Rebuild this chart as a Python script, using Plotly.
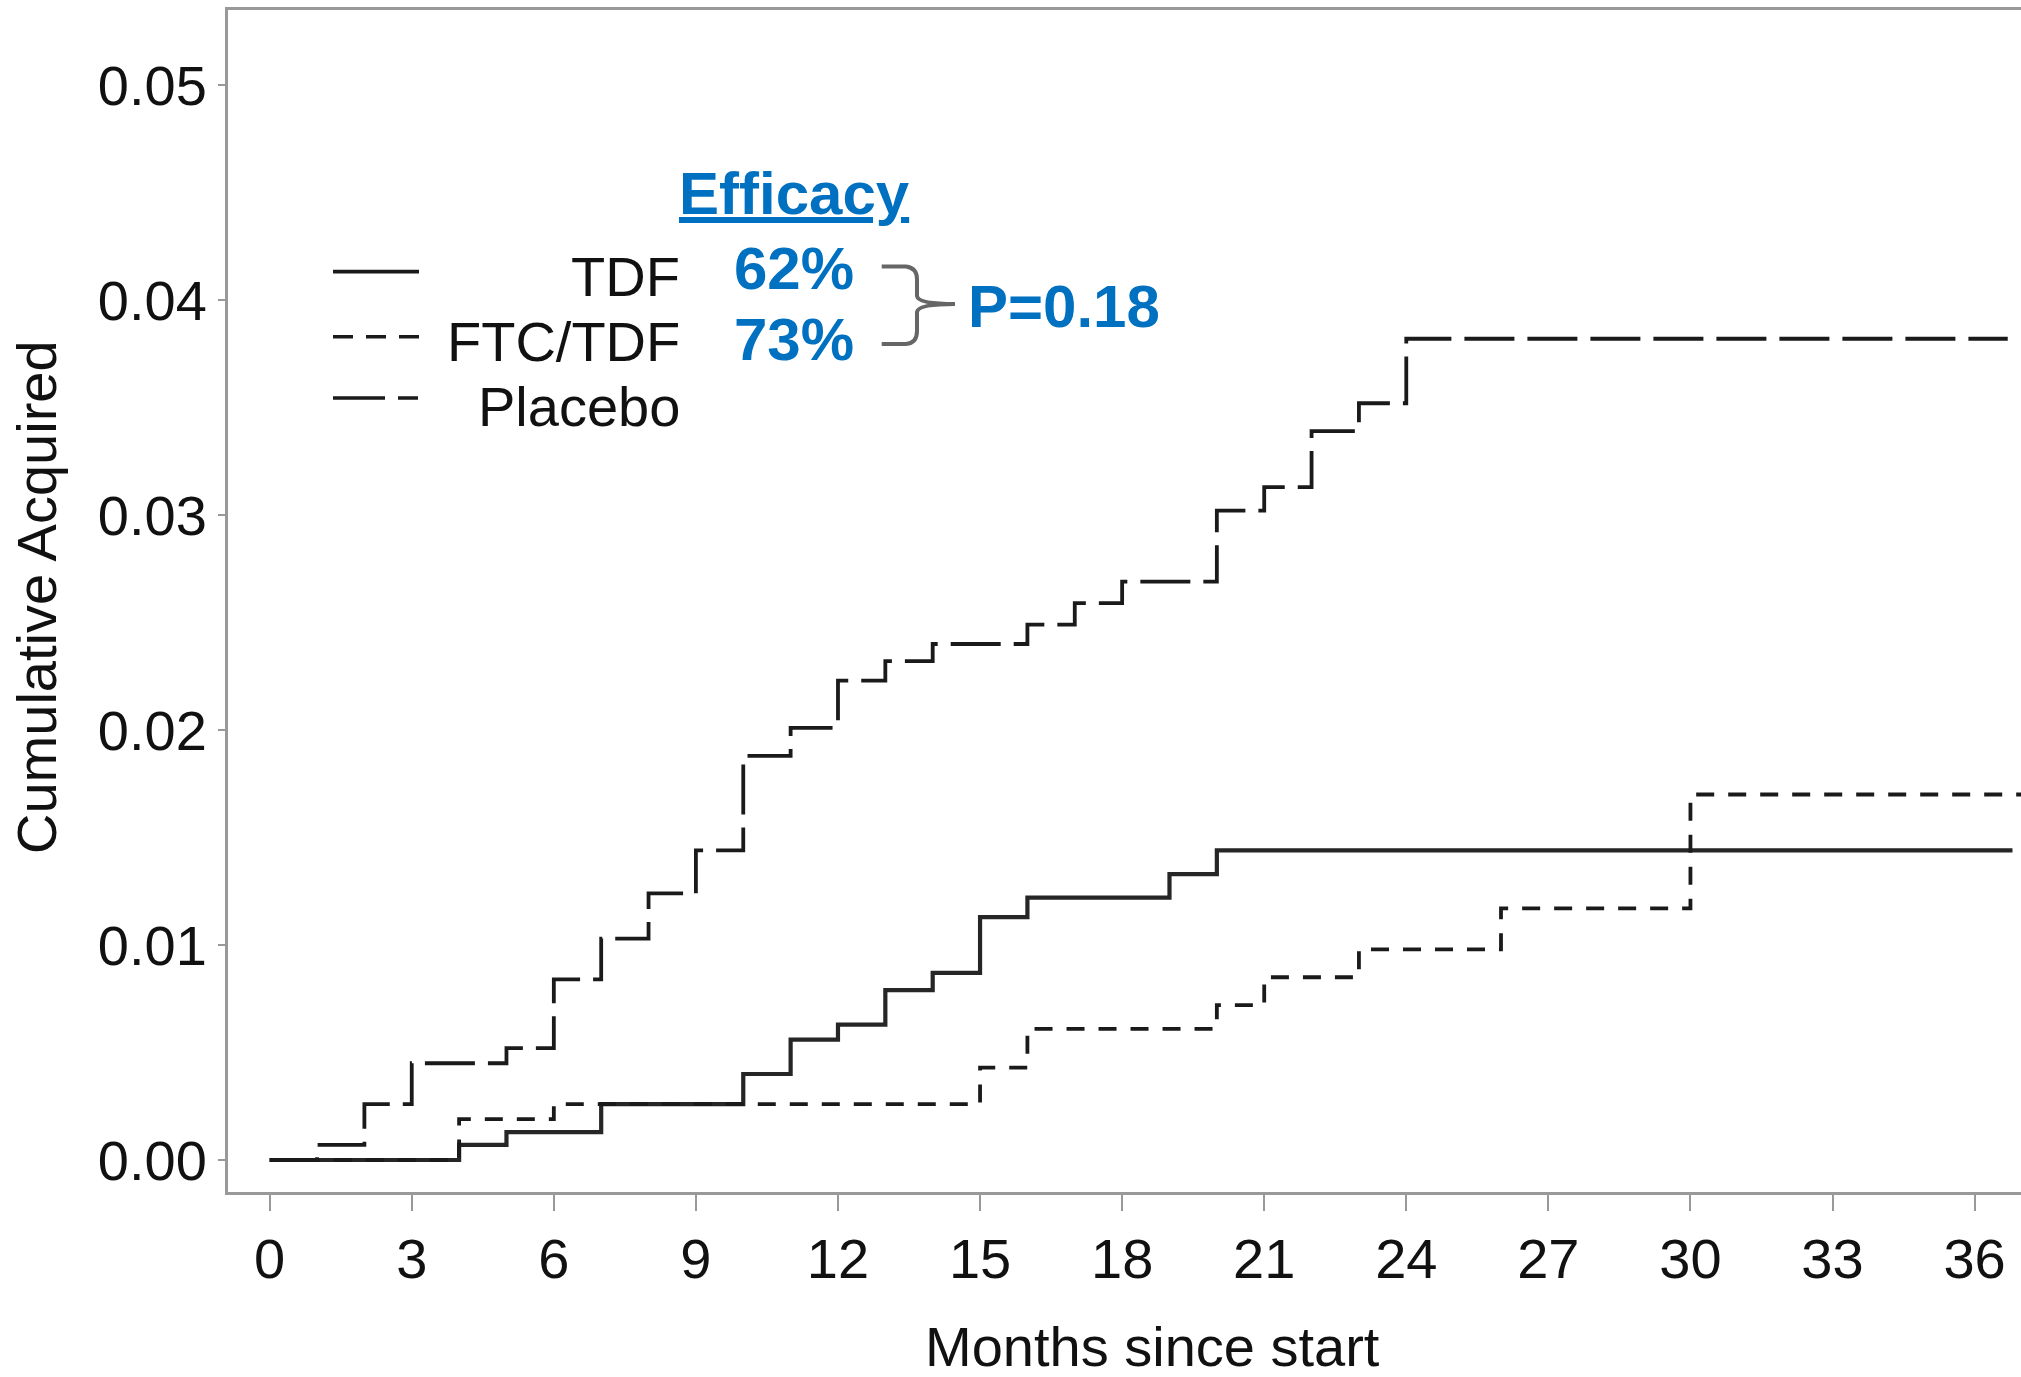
import plotly.graph_objects as go

# ---------------- data ----------------
tdf_months = [0, 4, 5, 7, 10, 11, 12, 13, 14, 15, 16, 19, 20, 36.8]
tdf_values = [0.0, 0.0007, 0.0013, 0.0026, 0.0040, 0.0056, 0.0063, 0.0079,
              0.0087, 0.0113, 0.0122, 0.0133, 0.0144, 0.0144]

ftc_months = [0, 4, 6, 15, 16, 20, 21, 23, 26, 30, 37.0]
ftc_values = [0.0, 0.0019, 0.0026, 0.0043, 0.0061, 0.0072, 0.0085, 0.0098,
              0.0117, 0.0170, 0.0170]

placebo_months = [0, 1, 2, 3, 5, 6, 7, 8, 9, 10, 11, 12, 13, 14, 16, 17, 18,
                  20, 21, 22, 23, 24, 36.7]
placebo_values = [0.0, 0.0007, 0.0026, 0.0045, 0.0052, 0.0084, 0.0103, 0.0124,
                  0.0144, 0.0188, 0.0201, 0.0223, 0.0232, 0.0240, 0.0249,
                  0.0259, 0.0269, 0.0302, 0.0313, 0.0339, 0.0352, 0.0382,
                  0.0382]

series_names = ["TDF", "FTC/TDF", "Placebo"]
efficacy_labels = ["62%", "73%"]
p_value_label = "P=0.18"

x_tickvals = list(range(0, 37, 3))
y_tickvals = [0.0, 0.01, 0.02, 0.03, 0.04, 0.05]

# ---------------- layout geometry ----------------
W, H = 2021, 1377
L, R, T, B = 228, 2021, 10, 1192
FONT = "Liberation Sans, Arial, sans-serif"
BLUE = "#0070C0"
INK = "#1a1a1a"
AXIS = "#999999"


def px(x):
    return (x - L) / (R - L)


def py(y):
    return (B - y) / (B - T)


fig = go.Figure()
fig.add_trace(go.Scatter(x=tdf_months, y=tdf_values, mode="lines",
                         line=dict(shape="hv", color="#262626", width=4.2),
                         name=series_names[0], showlegend=False))
fig.add_trace(go.Scatter(x=ftc_months, y=ftc_values, mode="lines",
                         line=dict(shape="hv", color=INK, width=3.8,
                                   dash="18px,14px"),
                         name=series_names[1], showlegend=False))
fig.add_trace(go.Scatter(x=placebo_months, y=placebo_values, mode="lines",
                         line=dict(shape="hv", color=INK, width=3.8,
                                   dash="50px,13px"),
                         name=series_names[2], showlegend=False))

fig.update_xaxes(range=[-0.88, 36.98], tickvals=x_tickvals,
                 ticks="outside", ticklen=16, tickwidth=2, tickcolor=AXIS,
                 showline=True, linecolor=AXIS, linewidth=3, mirror=True,
                 showgrid=False, zeroline=False,
                 tickfont=dict(family=FONT, size=56, color="#111111"))
fig.update_yaxes(range=[-0.001488, 0.05349], tickvals=y_tickvals,
                 tickformat=".2f",
                 ticks="outside", ticklen=7, tickwidth=2, tickcolor=AXIS,
                 showline=True, linecolor=AXIS, linewidth=3,
                 showgrid=False, zeroline=False,
                 tickfont=dict(family=FONT, size=56, color="#111111"))

annotations = []
# axis titles
annotations.append(dict(text="Cumulative Acquired", textangle=-90,
                        x=px(36), y=py(597), xref="paper", yref="paper",
                        xanchor="center", yanchor="middle", showarrow=False,
                        font=dict(family=FONT, size=56, color="#111111")))
annotations.append(dict(text="Months since start",
                        x=px(1152.5), y=py(1346), xref="paper", yref="paper",
                        xanchor="center", yanchor="middle", showarrow=False,
                        borderpad=0,
                        font=dict(family=FONT, size=56, color="#111111")))
# efficacy block
annotations.append(dict(text="<b><u>Efficacy</u></b>",
                        x=px(794.5), y=py(193.5), xref="paper", yref="paper",
                        xanchor="center", yanchor="middle", showarrow=False,
                        font=dict(family=FONT, size=60, color=BLUE)))
for lab, yc in zip(efficacy_labels, [268, 340]):
    annotations.append(dict(text="<b>%s</b>" % lab,
                            x=px(794.3), y=py(yc), xref="paper", yref="paper",
                            xanchor="center", yanchor="middle", showarrow=False,
                            font=dict(family=FONT, size=60, color=BLUE)))
annotations.append(dict(text="<b>%s</b>" % p_value_label,
                        x=px(966), y=py(306.5), xref="paper", yref="paper",
                        xanchor="left", yanchor="middle", showarrow=False,
                        font=dict(family=FONT, size=60, color=BLUE)))
# manual legend text
for name, yc in zip(series_names, [276.7, 341, 406]):
    annotations.append(dict(text=name, x=px(682), y=py(yc),
                            xref="paper", yref="paper",
                            xanchor="right", yanchor="middle", showarrow=False,
                            font=dict(family=FONT, size=56, color="#111111")))

shapes = []
legend_styles = [("solid", 3.8), ("20px,13px", 3.6), ("52px,13px,20px,13px", 3.6)]
for (dash, w), yc in zip(legend_styles, [271.7, 336.7, 398]):
    shapes.append(dict(type="line", xref="paper", yref="paper",
                       x0=px(333), x1=px(419), y0=py(yc), y1=py(yc),
                       line=dict(color=INK, width=w, dash=dash)))

# curly brace
pts = {
    "a": (881.7, 266.5), "b": (906, 266.5), "c": (917, 268), "d": (917, 279),
    "e": (917, 296), "f": (918, 304), "g": (955, 304),
    "h": (918, 304), "i": (917, 312), "j": (917, 331), "k": (917, 343),
    "l": (906, 344), "m": (881.7, 344),
}


def P(k):
    x, y = pts[k]
    return "%.5f %.5f" % (px(x), py(y))


brace = ("M %s L %s Q %s %s L %s Q %s %s Q %s %s L %s Q %s %s L %s"
         % (P("a"), P("b"), P("c"), P("d"), P("e"), P("f"), P("g"),
            P("h"), P("i"), P("j"), P("k"), P("l"), P("m")))
shapes.append(dict(type="path", xref="paper", yref="paper", path=brace,
                   line=dict(color="#666666", width=4)))

fig.update_layout(width=W, height=H,
                  margin=dict(l=L, r=W - R, t=T, b=H - B, pad=0),
                  paper_bgcolor="white", plot_bgcolor="white",
                  showlegend=False, annotations=annotations, shapes=shapes,
                  font=dict(family=FONT))

fig.write_html("out.html")
